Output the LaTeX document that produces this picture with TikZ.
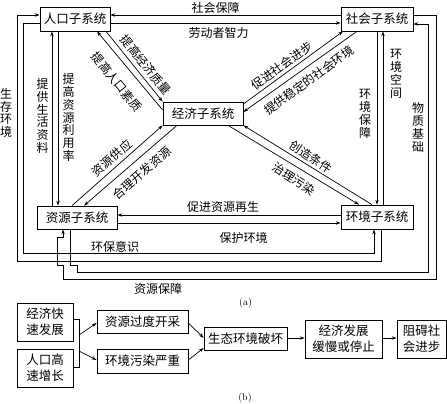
\documentclass[tikz,border=0pt]{standalone}
\usepackage{fontspec}
\newfontfamily\cjk{Noto Sans CJK SC}
\usetikzlibrary{arrows.meta}
\begin{document}
\begin{tikzpicture}[x=1pt,y=-1pt,
  box/.style={draw,line width=0.7pt,inner sep=0pt,font=\cjk\fontsize{12.5}{16}\selectfont,align=center},
  lbl/.style={inner sep=0pt,font=\cjk\fontsize{12}{12.8}\selectfont},
  vlbl/.style={lbl,align=center},
  ln/.style={line width=0.7pt},
  arr/.style={ln,-{Stealth[length=5pt,width=3.4pt]}},
]
\useasboundingbox[fill=white] (0,0) rectangle (447,404);
% ---------- (a) boxes
\node[box,minimum width=70pt,minimum height=24pt] (rk) at (75,19) {人口子系统};
\node[box,minimum width=72pt,minimum height=24pt] (sh) at (377,19) {社会子系统};
\node[box,minimum width=80pt,minimum height=23pt] (jj) at (203,113.5) {经济子系统};
\node[box,minimum width=80pt,minimum height=23pt] (zy) at (77,217.5) {资源子系统};
\node[box,minimum width=72pt,minimum height=24pt] (hj) at (377,217) {环境子系统};
% top
\draw[arr] (sh.west |- 0,15) -- (rk.east |- 0,15);
\draw[arr] (rk.east |- 0,23) -- (sh.west |- 0,23);
% verticals
\draw[arr] (zy.north -| 52,0) -- (rk.south -| 52,0);
\draw[arr] (rk.south -| 58,0) -- (zy.north -| 58,0);
\draw[arr] (sh.south -| 377,0) -- (hj.north -| 377,0);
\draw[arr] (hj.north -| 383,0) -- (sh.south -| 383,0);
% lower horizontals
\draw[arr] (hj.west |- 0,215) -- (zy.east |- 0,215);
\draw[arr] (zy.east |- 0,223) -- (hj.west |- 0,223);
% diagonals
\draw[arr] (rk.south -| 106,0) -- (jj.north west);
\draw[arr] (jj.west |- 0,110) -- (rk.south -| 97,0);
\draw[arr] (jj.east |- 0,104) -- (sh.south -| 343,0);
\draw[arr] (sh.south -| 357,0) -- (jj.east |- 0,112);
\draw[arr] (zy.north -| 72,0) -- (jj.south west);
\draw[arr] (jj.south -| 177,0) -- (zy.north -| 84,0);
\draw[arr] (hj.north -| 372,0) -- (jj.south east);
\draw[arr] (jj.south -| 228,0) -- (hj.north -| 359,0);
% outer loops
\draw[arr] (hj.south -| 381,0) -- (381,261) -- (17,261) -- (17,15) -- (rk.west |- 0,15);
\draw[arr] (rk.west |- 0,23) -- (23,23) -- (23,253) -- (374,253) -- (hj.south -| 374,0);
\draw[arr] (zy.south -| 70,0) -- (70,265) -- (77,265) -- (77,272) -- (428,272) -- (428,24) -- (sh.east |- 0,24);
\draw[arr] (sh.east |- 0,15) -- (436,15) -- (436,279) -- (63,279) -- (63,265) -- (57,265) -- (57,237) -- (63,237) -- (zy.south -| 63,0);
% labels
\node[lbl] at (215.5,7.5) {社会保障};
\node[lbl] at (218.5,33) {劳动者智力};
\node[lbl,rotate=-51] at (146,65) {提高经济质量};
\node[lbl,rotate=-51] at (117,82) {提高人口素质};
\node[lbl,rotate=36] at (282,66) {促进社会进步};
\node[lbl,rotate=36] at (309,80) {提供稳定的社会环境};
\node[lbl,rotate=41] at (112,158) {资源供应};
\node[lbl,rotate=41] at (142,173) {合理开发资源};
\node[lbl,rotate=-33] at (311,157) {创造条件};
\node[lbl,rotate=-33] at (294,179) {治理污染};
\node[lbl] at (223,207) {促进资源再生};
\node[lbl] at (243.5,237.5) {保护环境};
\node[lbl] at (115,247) {环保意识};
\node[lbl] at (158,288.5) {资源保障};
\node[vlbl] at (6,113) {生\\存\\环\\境};
\node[vlbl] at (42.5,116) {提\\供\\生\\活\\资\\料};
\node[vlbl] at (68.5,117.5) {提\\高\\资\\源\\利\\用\\率};
\node[vlbl] at (365,114) {环\\境\\保\\障};
\node[vlbl] at (396,74) {环\\境\\空\\间};
\node[vlbl] at (418,127.5) {物\\质\\基\\础};
\node[font=\fontsize{10}{12}\selectfont,inner sep=0pt] (capa) at (245.5,303) {(a)};
% ---------- (b)
\node[box,minimum width=56pt,minimum height=38pt] (b1) at (45,322) {经济快\\速发展};
\node[box,minimum width=56pt,minimum height=38pt] (b2) at (45,368) {人口高\\速增长};
\node[box,minimum width=91pt,minimum height=23pt] (b3) at (142.5,322) {资源过度开采};
\node[box,minimum width=91pt,minimum height=24pt] (b4) at (142.5,361) {环境污染严重};
\node[box,minimum width=83pt,minimum height=23pt] (b5) at (245.5,338.5) {生态环境破坏};
\node[box,minimum width=77pt,minimum height=38pt] (b6) at (343.5,339) {经济发展\\缓慢或停止};
\node[box,minimum width=49pt,minimum height=38pt] (b7) at (421.5,339) {阻碍社\\会进步};
\coordinate (br1) at (79,335);
\coordinate (br2) at (79,351);
\draw[ln] (b1.east |- 0,319) -- (79,319) -- (79,367) -- (b2.east |- 0,367);
\draw[arr] (br1) -- (b3.west |- 0,323);
\draw[arr] (br2) -- (b4.west |- 0,360);
\draw[arr] (b3.east |- 0,323) -- (b5.west |- 0,338);
\draw[arr] (b4.east |- 0,360) -- (b5.west |- 0,348);
\draw[arr] (b5.east |- 0,338) -- (b6.west |- 0,338);
\draw[arr] (b6.east |- 0,338) -- (b7.west |- 0,338);
\node[font=\fontsize{10}{12}\selectfont,inner sep=0pt] (capb) at (245,398) {(b)};
\end{tikzpicture}
\end{document}
